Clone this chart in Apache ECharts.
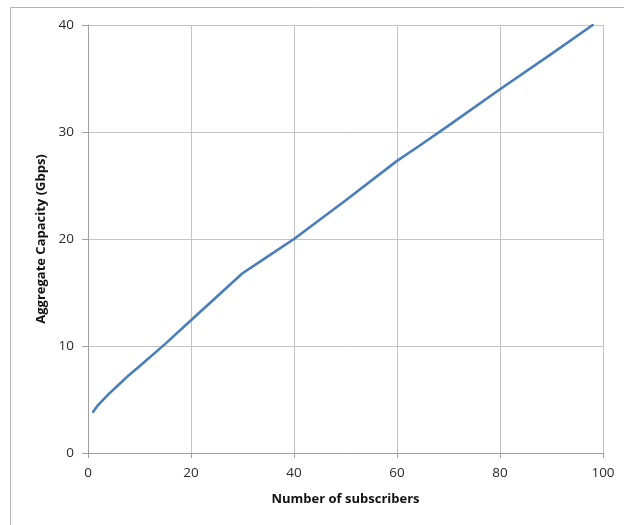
<!DOCTYPE html>
<html>
<head>
<meta charset="utf-8">
<script src="https://cdn.jsdelivr.net/npm/echarts@6/dist/echarts.min.js"></script>
<style>
  html, body { margin: 0; padding: 0; background: #fff; }
  #chart { width: 624px; height: 525px; }
</style>
</head>
<body>
<div id="chart"></div>
<script>
// Aggregate capacity versus number of subscribers
const subscribers = [1, 2, 4, 6, 8, 10, 15, 20, 25, 30, 35, 40, 50, 60, 64, 70, 80, 90, 98];
const capacityGbps = [3.85, 4.5, 5.5, 6.4, 7.3, 8.1, 10.2, 12.4, 14.6, 16.8, 18.4, 20.0, 23.6, 27.3, 28.6, 30.6, 34.0, 37.3, 40.0];
const xTicks = [0, 20, 40, 60, 80, 100];
const yTicks = [0, 10, 20, 30, 40];

const points = subscribers.map((s, i) => [s, capacityGbps[i]]);
const gridColor = '#c4c4c4';
const labelFont = { fontFamily: 'Open Sans, Liberation Sans, sans-serif', fontSize: 13.5, color: '#2a2a2a' };

const chart = echarts.init(document.getElementById('chart'), null, { renderer: 'canvas' });
chart.setOption({
  animation: false,
  backgroundColor: '#fff',
  graphic: [{
    type: 'rect',
    shape: { x: 10.5, y: 7.5, width: 700, height: 600 },
    style: { fill: 'none', stroke: '#b4b4b4', lineWidth: 1 },
    silent: true,
    z: -1
  }],
  grid: { left: 88, right: 21, top: 25, bottom: 72, containLabel: false },
  xAxis: {
    type: 'value',
    min: xTicks[0],
    max: xTicks[xTicks.length - 1],
    interval: 20,
    name: 'Number of subscribers',
    nameLocation: 'middle',
    nameGap: 40,
    nameTextStyle: { fontFamily: 'Open Sans, Liberation Sans, sans-serif', fontSize: 13, fontWeight: 'bold', color: '#111' },
    axisLine: { show: true, lineStyle: { color: '#a0a0a0', width: 1 } },
    axisTick: { show: true, length: 5, lineStyle: { color: '#a0a0a0' } },
    axisLabel: Object.assign({ margin: 13 }, labelFont),
    splitLine: { show: true, lineStyle: { color: gridColor, width: 1 } }
  },
  yAxis: {
    type: 'value',
    min: yTicks[0],
    max: yTicks[yTicks.length - 1],
    interval: 10,
    name: 'Aggregate Capacity (Gbps)',
    nameLocation: 'middle',
    nameGap: 39,
    nameRotate: 90,
    nameTextStyle: { fontFamily: 'Open Sans, Liberation Sans, sans-serif', fontSize: 13, fontWeight: 'bold', color: '#111' },
    axisLine: { show: true, lineStyle: { color: '#a0a0a0', width: 1 } },
    axisTick: { show: true, length: 6, lineStyle: { color: '#a0a0a0' } },
    axisLabel: Object.assign({ margin: 14 }, labelFont),
    splitLine: { show: true, lineStyle: { color: gridColor, width: 1 } }
  },
  series: [{
    type: 'line',
    data: points,
    smooth: false,
    showSymbol: false,
    lineStyle: { color: '#4a7ebb', width: 2.6, join: 'round', cap: 'round' },
    z: 3
  }]
});
</script>
</body>
</html>
